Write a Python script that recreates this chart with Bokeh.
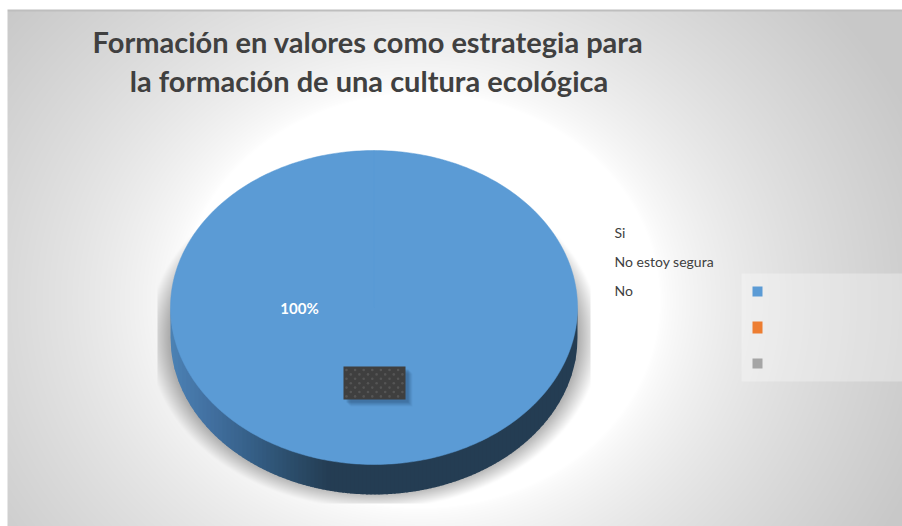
import numpy as np
from bokeh.plotting import figure
from bokeh.models import Range1d
from bokeh.core.properties import value
from bokeh.embed import file_html
from bokeh.resources import INLINE

title_lines = ["Formación en valores como estrategia para", "la formación de una cultura ecológica"]
categories = ["Si", "No estoy segura", "No"]
values = [100, 0, 0]
colors = ["#5b9bd5", "#ed7d31", "#a5a5a5"]
pct_label = "100%"

W, H = 902, 526
OX, OY = 0, 0


def X(px):
    return np.asarray(px, dtype=float) - OX


def Y(py):
    return H + OY - np.asarray(py, dtype=float)


p = figure(width=W, height=H, output_backend="svg", toolbar_location=None,
           x_range=Range1d(0, W), y_range=Range1d(0, H), min_border=0)
p.axis.visible = False
p.grid.visible = False
p.outline_line_color = None
p.background_fill_color = None
p.border_fill_color = None

# background gradient + pie drop shadow (raster)
CX, CY, RX, RY, DEPTH = 373.5, 307.0, 203.5, 157.0, 30.0
xx, yy = np.meshgrid(np.arange(W) + OX + 0.5, np.arange(H) + OY + 0.5)
d = np.sqrt(((xx - 420) / 600) ** 2 + ((yy - 300) / 520) ** 2)
t = np.clip((d - 0.40) / (0.90 - 0.40), 0, 1)
grey = 255 - (255 - 200) * t ** 0.7
sd = np.sqrt(((xx - CX) / (RX + 12)) ** 2 + ((yy - (CY + DEPTH - 1)) / (RY + 7)) ** 2) - 1
shadow = 0.30 * np.clip((0.05 - sd) / 0.10, 0, 1)
box = (xx >= 157) & (xx <= 590) & (yy <= 503)
grey = grey * (1 - shadow * box)
grey[(yy >= 9) & (yy < 11)] = 190
grey[xx < 7] = 255
grey[yy < 9] = 255
g = grey.astype(np.uint8).astype(np.uint32)
img = (255 << 24) | (g << 16) | (g << 8) | g
p.image_rgba(image=[img[::-1].astype(np.uint32)], x=0, y=0, dw=W, dh=H)

# pie built from the values
total = sum(values)
angles = np.cumsum([0] + values) / total * 2 * np.pi
stops_x = [170, 210, 250, 290, 330, 578]
stops_r = [76, 66, 54, 44, 36, 36]
stops_g = [130, 112, 96, 78, 61, 61]
stops_b = [180, 160, 136, 108, 83, 83]

for i in range(len(values)):
    if values[i] == 0:
        continue
    a0, a1 = angles[i] - np.pi / 2, angles[i + 1] - np.pi / 2
    th = np.linspace(a0, a1, 361)
    ex, ey = CX + RX * np.cos(th), CY + RY * np.sin(th)
    # side wall: vertical strips, shaded left to right
    edges = np.arange(CX - RX, CX + RX + 4, 4)
    sx, sy, sc = [], [], []
    for left, right in zip(edges[:-1], edges[1:]):
        right2 = min(right + 1, CX + RX)
        xs = np.linspace(left, right2, 8)
        if left >= CX + RX:
            continue
        low = CY + RY * np.sqrt(np.clip(1 - ((xs - CX) / RX) ** 2, 0, 1))
        sx.append(X(np.r_[xs, xs[::-1]]))
        sy.append(Y(np.r_[low - 2, (low + DEPTH)[::-1]]))
        mid = (left + right) / 2
        c = [int(np.interp(mid, stops_x, s)) for s in (stops_r, stops_g, stops_b)]
        sc.append("#%02x%02x%02x" % tuple(c))
    p.patches(sx, sy, fill_color=sc, line_color=None)
    p.patch(X(np.r_[CX, ex]), Y(np.r_[CY, ey]), fill_color=colors[i], line_color=colors[i], line_width=0.5)

# data label box
BX0, BX1, BY0, BY1 = 343, 405, 366, 399
for off, alpha in ((7, 0.06), (6, 0.08), (5, 0.10), (4, 0.12), (3, 0.14)):
    p.quad(left=X(BX0 + off), right=X(BX1 + off), top=Y(BY0 + off), bottom=Y(BY1 + off),
           fill_color="#1f3f60", fill_alpha=alpha, line_color=None)
p.quad(left=X(BX0), right=X(BX1), top=Y(BY0), bottom=Y(BY1), fill_color="#3f3f3f", line_color=None)
dx, dy = [], []
for r, yy0 in enumerate(np.arange(BY0 + 3.5, BY1, 4.4)):
    for xx0 in np.arange(BX0 + 3 + (r % 2) * 4.3, BX1 - 1, 8.6):
        dx.append(float(X(xx0)))
        dy.append(float(Y(yy0)))
p.scatter(dx, dy, size=2.6, marker="circle", fill_color="#555555", line_color=None)

p.text(x=[X(299)], y=[Y(307.5)], text=[pct_label], text_color="#ffffff", text_font=value("Lato"),
       text_font_style="bold", text_font_size="15px", text_align="center", text_baseline="middle")

# title
for line, px, py in zip(title_lines, (367.5, 368.5), (41, 80)):
    p.text(x=[X(px)], y=[Y(py)], text=[line], text_color="#404040", text_font=value("Lato"),
           text_font_style="bold", text_font_size="29px", text_align="center", text_baseline="middle")

# legend
p.quad(left=X(741), right=X(902), top=Y(273), bottom=Y(381), fill_color="#ffffff", fill_alpha=0.3, line_color=None)
for cat, col, ty, m0, m1 in zip(categories, colors, (232, 261, 290), (286, 321, 358), (296, 333, 368)):
    p.text(x=[X(614)], y=[Y(ty)], text=[cat], text_color="#404040", text_font=value("Lato"),
           text_font_size="14px", text_align="left", text_baseline="middle")
    p.quad(left=X(752), right=X(762), top=Y(m0), bottom=Y(m1), fill_color=col, line_color=None)

open("out.html", "w").write(file_html(p, INLINE))
